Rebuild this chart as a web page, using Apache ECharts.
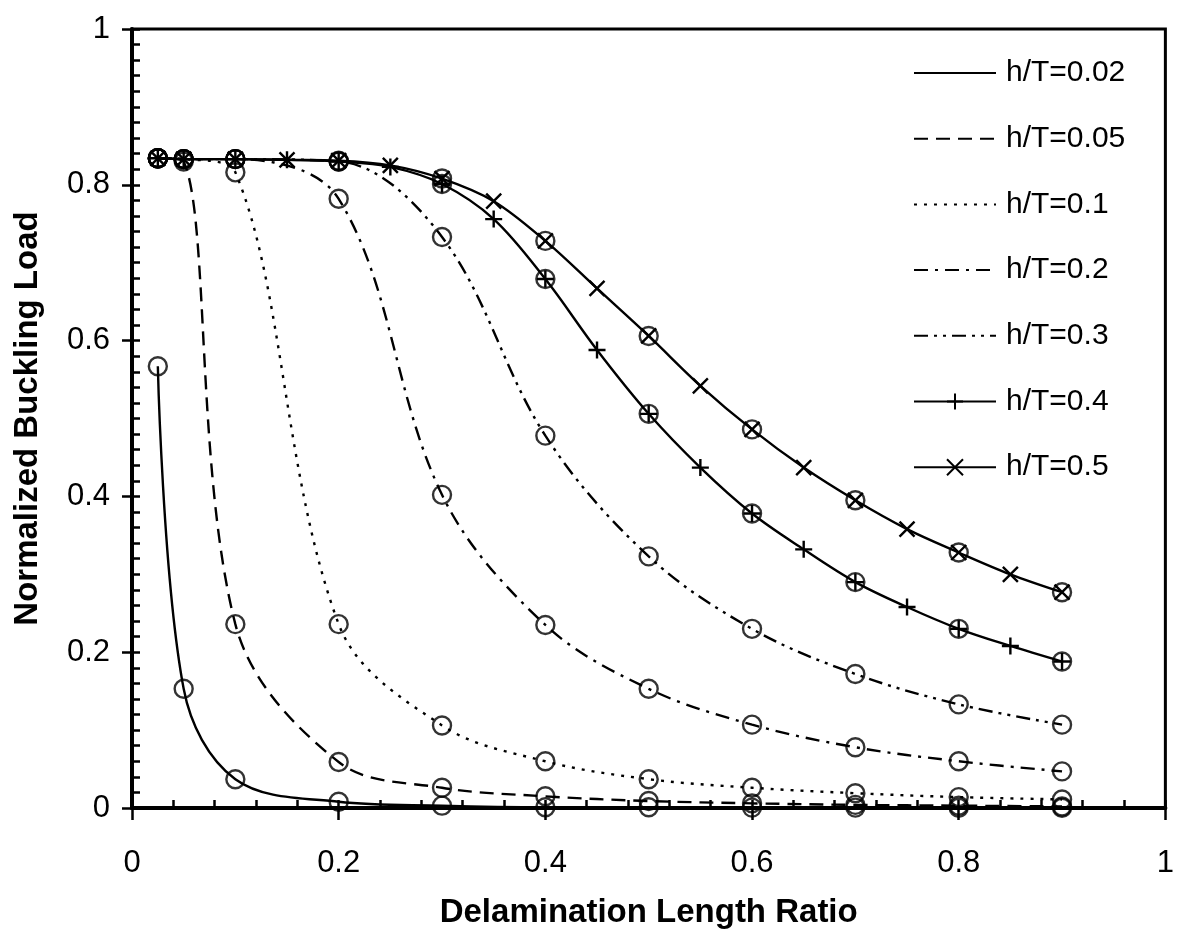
<!DOCTYPE html>
<html><head><meta charset="utf-8">
<script src="https://cdn.jsdelivr.net/npm/echarts@6/dist/echarts.min.js"></script>
<style>html,body{margin:0;padding:0;background:#fff}#c{width:1177px;height:934px}</style>
</head><body><div id="c"></div>
<script>
// ---- data ----
const xBase = [0.025, 0.05, 0.1, 0.2, 0.3, 0.4, 0.5, 0.6, 0.7, 0.8, 0.9];
const xFine = [0.025, 0.05, 0.1, 0.15, 0.2, 0.25, 0.3, 0.35, 0.4, 0.45, 0.5, 0.55, 0.6, 0.65, 0.7, 0.75, 0.8, 0.85, 0.9];
const seriesNames = ['h/T=0.02', 'h/T=0.05', 'h/T=0.1', 'h/T=0.2', 'h/T=0.3', 'h/T=0.4', 'h/T=0.5'];
const ht002 = [0.567, 0.153, 0.037, 0.008, 0.003, 0.001, 0.001, 0.0005, 0.0005, 0.0003, 0.0003];
const ht005 = [0.834, 0.830, 0.236, 0.059, 0.026, 0.015, 0.009, 0.006, 0.004, 0.003, 0.002];
const ht01  = [0.834, 0.833, 0.816, 0.236, 0.106, 0.060, 0.037, 0.026, 0.019, 0.014, 0.011];
const ht02  = [0.834, 0.833, 0.833, 0.782, 0.402, 0.235, 0.153, 0.107, 0.078, 0.060, 0.047];
const ht03  = [0.834, 0.833, 0.833, 0.830, 0.733, 0.478, 0.323, 0.230, 0.172, 0.133, 0.107];
const ht04  = [0.834, 0.833, 0.833, 0.832, 0.830, 0.823, 0.801, 0.756, 0.679, 0.588, 0.506, 0.437, 0.378, 0.332, 0.290, 0.258, 0.230, 0.208, 0.188];
const ht05  = [0.834, 0.833, 0.833, 0.832, 0.831, 0.825, 0.808, 0.779, 0.728, 0.667, 0.606, 0.542, 0.486, 0.437, 0.395, 0.358, 0.328, 0.300, 0.277];
const xTicks = ['0', '0.2', '0.4', '0.6', '0.8', '1'];

// ---- build ----
const FONT = '"Liberation Sans", Arial, Helvetica, sans-serif';
const pair = (xs, ys) => xs.map((x, i) => [x, ys[i]]);
const dashes = {
  'h/T=0.02': 'solid',
  'h/T=0.05': [14, 8],
  'h/T=0.1': [3, 7],
  'h/T=0.2': [14, 7, 3, 7],
  'h/T=0.3': [14, 6, 3, 6, 3, 6],
  'h/T=0.4': 'solid',
  'h/T=0.5': 'solid'
};
const plusPath = 'path://M5,0L5,10M0,5L10,5';
const crossPath = 'path://M0,0L10,10M10,0L0,10';
const lineSets = [
  [seriesNames[0], xBase, ht002, 'none'],
  [seriesNames[1], xBase, ht005, 'none'],
  [seriesNames[2], xBase, ht01, 'none'],
  [seriesNames[3], xBase, ht02, 'none'],
  [seriesNames[4], xBase, ht03, 'none'],
  [seriesNames[5], xFine, ht04, plusPath],
  [seriesNames[6], xFine, ht05, crossPath]
];
const series = lineSets.map(([name, xs, ys, sym]) => ({
  name, type: 'line', data: pair(xs, ys), smooth: 0.35,
  symbol: sym, symbolSize: sym === plusPath ? 17 : 15, showSymbol: sym !== 'none',
  itemStyle: { color: 'rgba(0,0,0,0)', borderColor: '#000', borderWidth: 2.4 },
  lineStyle: { color: '#000', width: 2.4, type: dashes[name] },
  emphasis: { disabled: true }, z: 3
}));
// open circle markers at the computed points
const circleData = [];
lineSets.forEach(([name, xs, ys]) => {
  xs.forEach((x, i) => { if (xBase.indexOf(x) >= 0) circleData.push([x, ys[i]]); });
});
series.push({
  name: 'points', type: 'scatter', data: circleData, symbol: 'circle', symbolSize: 18,
  itemStyle: { color: 'rgba(0,0,0,0)', borderColor: '#000', borderWidth: 2.4 },
  emphasis: { disabled: true }, z: 4
});

const legendData = seriesNames.map((n, i) => i < 5
  ? { name: n, itemStyle: { color: 'rgba(0,0,0,0)', borderColor: 'rgba(0,0,0,0)', borderWidth: 0 } }
  : { name: n });

const chart = echarts.init(document.getElementById('c'), null, { renderer: 'canvas' });
chart.setOption({
  animation: false,
  backgroundColor: '#fff',
  grid: { left: 132, top: 29, width: 1037, height: 784, show: true, borderColor: '#000', borderWidth: 3, backgroundColor: 'rgba(0,0,0,0)' },
  legend: {
    data: legendData, orient: 'vertical', left: 913, top: 58, padding: 0,
    itemWidth: 82, itemHeight: 20, itemGap: 35.7,
    textStyle: { fontSize: 30, fontFamily: FONT, color: '#000', lineHeight: 30, padding: [0, 0, 0, 5] },
    selectedMode: false
  },
  xAxis: [{
    type: 'value', min: 0, max: 1, interval: 0.2, position: 'bottom',
    axisLine: { show: true, lineStyle: { color: '#000', width: 4 } },
    axisTick: { show: true, inside: false, length: 12, lineStyle: { color: '#000', width: 2.5 } },
    axisLabel: { fontSize: 31, fontFamily: FONT, color: '#000', margin: 40,
      formatter: v => xTicks[Math.round(v / 0.2)] },
    splitLine: { show: false },
    name: 'Delamination Length Ratio', nameLocation: 'middle', nameGap: 88,
    nameTextStyle: { fontSize: 33, fontWeight: 'bold', fontFamily: FONT, color: '#000' }
  }, {
    type: 'value', min: 0, max: 1, interval: 0.2, position: 'bottom', offset: 0,
    axisLine: { show: false }, axisLabel: { show: false }, splitLine: { show: false },
    axisTick: { show: true, inside: true, length: 8, lineStyle: { color: '#000', width: 2.5 } },
    minorTick: { show: true, splitNumber: 5, length: 8, lineStyle: { color: '#000', width: 2.5 } }
  }],
  yAxis: [{
    type: 'value', min: 0, max: 1, interval: 0.2, position: 'left',
    axisLine: { show: true, lineStyle: { color: '#000', width: 4 } },
    axisTick: { show: true, inside: false, length: 10, lineStyle: { color: '#000', width: 2.5 } },
    axisLabel: { fontSize: 31, fontFamily: FONT, color: '#000', margin: 22,
      formatter: v => xTicks[Math.round(v / 0.2)] },
    splitLine: { show: false },
    name: 'Normalized Buckling Load', nameLocation: 'middle', nameGap: 88,
    nameTextStyle: { fontSize: 33, fontWeight: 'bold', fontFamily: FONT, color: '#000' }
  }, {
    type: 'value', min: 0, max: 1, interval: 0.2, position: 'left', offset: 0,
    axisLine: { show: false }, axisLabel: { show: false }, splitLine: { show: false },
    axisTick: { show: true, inside: true, length: 8, lineStyle: { color: '#000', width: 2.5 } },
    minorTick: { show: true, splitNumber: 10, length: 8, lineStyle: { color: '#000', width: 2.5 } }
  }],
  series
});
</script>
</body></html>
